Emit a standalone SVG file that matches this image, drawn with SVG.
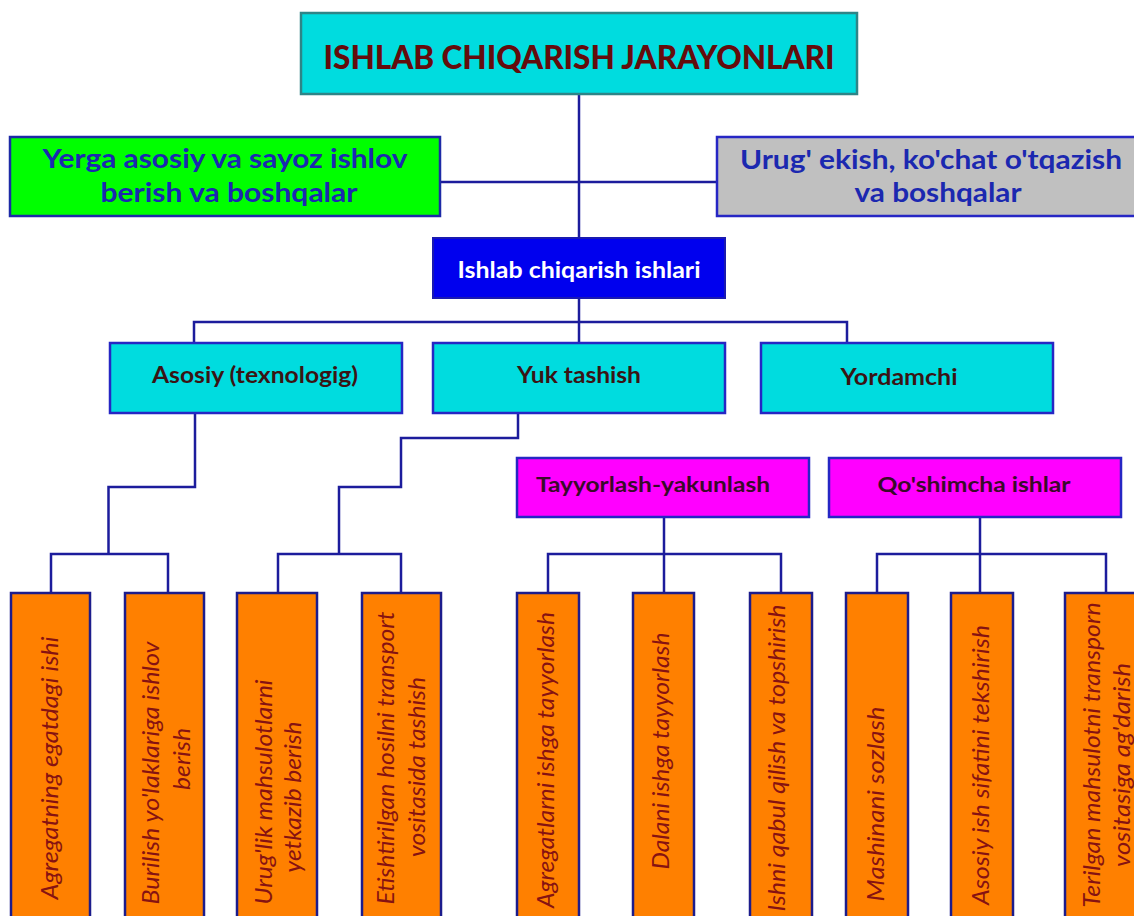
<svg xmlns="http://www.w3.org/2000/svg" width="1134" height="916" viewBox="0 0 1134 916">
<style>
.bg{fill:#ffffff}
.ln{fill:none;stroke:#1c1c9c;stroke-width:2.5}
.title{fill:#00dcdf;stroke:#2e8587;stroke-width:2.5}
.cyan{fill:#00dcdf;stroke:#2626c4;stroke-width:2.5}
.green{fill:#00ff00;stroke:#1c2aa6;stroke-width:2.5}
.gray{fill:#c0c0c0;stroke:#2626c4;stroke-width:2.5}
.blue{fill:#0000ee;stroke:#1a1ab0;stroke-width:2}
.mag{fill:#ff00ff;stroke:#2626c4;stroke-width:2.5}
.org{fill:#ff8000;stroke:#1c1c8c;stroke-width:2.5}
text{font-family:Lato,"Open Sans","Liberation Sans",sans-serif;font-weight:bold;text-anchor:middle}
.t0{fill:#640c0c;font-size:33px;font-weight:900}
.t1{fill:#1b28b0;font-size:26px}
.t2{fill:#ffffff;font-size:22px}
.t3{fill:#3a1414;font-size:23px}
.t4{fill:#3a0a2a;font-size:21px}
.t5{fill:#861212;font-size:24px;font-style:italic;font-weight:normal}
</style>
<rect class="bg" x="0" y="0" width="1134" height="916"/>
<g id="connectors">
<path class="ln" d="M579 94V238"/>
<path class="ln" d="M440 182H717"/>
<path class="ln" d="M579 298V343"/>
<path class="ln" d="M194 343V322H847V343"/>
<path class="ln" d="M195 413V487H108.5V554"/>
<path class="ln" d="M51 593V554H168V593"/>
<path class="ln" d="M518 413V438H401V487H339V554"/>
<path class="ln" d="M278 593V554H401V593"/>
<path class="ln" d="M664 517V593"/>
<path class="ln" d="M548 593V554H781V593"/>
<path class="ln" d="M980 517V593"/>
<path class="ln" d="M877 593V554H1106V593"/>
</g>
<g id="n-title">
<rect class="title" x="301" y="13" width="556" height="81"/>
<text class="t0" x="579" y="69" textLength="511" lengthAdjust="spacingAndGlyphs">ISHLAB CHIQARISH JARAYONLARI</text>
</g>
<g id="n-yerga">
<rect class="green" x="10" y="137" width="430" height="79"/>
<text class="t1" x="225" y="168" textLength="365" lengthAdjust="spacingAndGlyphs">Yerga asosiy va sayoz ishlov</text>
<text class="t1" x="229" y="202" textLength="257" lengthAdjust="spacingAndGlyphs">berish va boshqalar</text>
</g>
<g id="n-urug">
<rect class="gray" x="717" y="137" width="425" height="79"/>
<text class="t1" x="931" y="169" textLength="382" lengthAdjust="spacingAndGlyphs">Urug' ekish, ko'chat o'tqazish</text>
<text class="t1" x="938" y="202" textLength="167" lengthAdjust="spacingAndGlyphs">va boshqalar</text>
</g>
<g id="n-ishlab">
<rect class="blue" x="433" y="238" width="292" height="60"/>
<text class="t2" x="579" y="278" textLength="243" lengthAdjust="spacingAndGlyphs">Ishlab chiqarish ishlari</text>
</g>
<g id="n-asosiy">
<rect class="cyan" x="110" y="343" width="292" height="70"/>
<text class="t3" x="255" y="383" textLength="206" lengthAdjust="spacingAndGlyphs">Asosiy (texnologig)</text>
</g>
<g id="n-yuk">
<rect class="cyan" x="433" y="343" width="292" height="70"/>
<text class="t3" x="579" y="383" textLength="124" lengthAdjust="spacingAndGlyphs">Yuk tashish</text>
</g>
<g id="n-yordamchi">
<rect class="cyan" x="761" y="343" width="292" height="70"/>
<text class="t3" x="899" y="385" textLength="117" lengthAdjust="spacingAndGlyphs">Yordamchi</text>
</g>
<g id="n-tayyorlash">
<rect class="mag" x="517" y="458" width="292" height="59"/>
<text class="t4" x="653" y="492" textLength="234" lengthAdjust="spacingAndGlyphs">Tayyorlash-yakunlash</text>
</g>
<g id="n-qoshimcha">
<rect class="mag" x="829" y="458" width="292" height="59"/>
<text class="t4" x="974" y="492" textLength="193" lengthAdjust="spacingAndGlyphs">Qo'shimcha ishlar</text>
</g>
<g id="n-o1">
<rect class="org" x="11" y="593" width="79" height="340"/>
<text class="t5" transform="translate(58 768) rotate(-90)" textLength="263" lengthAdjust="spacingAndGlyphs">Agregatning egatdagi ishi</text>
</g>
<g id="n-o2">
<rect class="org" x="125" y="593" width="79" height="340"/>
<text class="t5" transform="translate(159 773) rotate(-90)" textLength="263" lengthAdjust="spacingAndGlyphs">Burilish yo'laklariga ishlov</text>
<text class="t5" transform="translate(190 759) rotate(-90)" textLength="62" lengthAdjust="spacingAndGlyphs">berish</text>
</g>
<g id="n-o3">
<rect class="org" x="237" y="593" width="80" height="340"/>
<text class="t5" transform="translate(272 792) rotate(-90)" textLength="225" lengthAdjust="spacingAndGlyphs">Urug'lik mahsulotlarni</text>
<text class="t5" transform="translate(301 797) rotate(-90)" textLength="151" lengthAdjust="spacingAndGlyphs">yetkazib berish</text>
</g>
<g id="n-o4">
<rect class="org" x="362" y="593" width="79" height="340"/>
<text class="t5" transform="translate(394 758) rotate(-90)" textLength="293" lengthAdjust="spacingAndGlyphs">Etishtirilgan hosilni transport</text>
<text class="t5" transform="translate(425 767) rotate(-90)" textLength="180" lengthAdjust="spacingAndGlyphs">vositasida tashish</text>
</g>
<g id="n-o5">
<rect class="org" x="517" y="593" width="62" height="340"/>
<text class="t5" transform="translate(554 760) rotate(-90)" textLength="296" lengthAdjust="spacingAndGlyphs">Agregatlarni ishga tayyorlash</text>
</g>
<g id="n-o6">
<rect class="org" x="633" y="593" width="61" height="340"/>
<text class="t5" transform="translate(669 751) rotate(-90)" textLength="237" lengthAdjust="spacingAndGlyphs">Dalani ishga tayyorlash</text>
</g>
<g id="n-o7">
<rect class="org" x="750" y="593" width="62" height="340"/>
<text class="t5" transform="translate(785 758) rotate(-90)" textLength="307" lengthAdjust="spacingAndGlyphs">Ishni qabul qilish va topshirish</text>
</g>
<g id="n-o8">
<rect class="org" x="846" y="593" width="62" height="340"/>
<text class="t5" transform="translate(884 804) rotate(-90)" textLength="195" lengthAdjust="spacingAndGlyphs">Mashinani sozlash</text>
</g>
<g id="n-o9">
<rect class="org" x="951" y="593" width="62" height="340"/>
<text class="t5" transform="translate(989 765) rotate(-90)" textLength="280" lengthAdjust="spacingAndGlyphs">Asosiy ish sifatini tekshirish</text>
</g>
<g id="n-o10">
<rect class="org" x="1065" y="593" width="82" height="340"/>
<text class="t5" transform="translate(1100 755) rotate(-90)" textLength="305" lengthAdjust="spacingAndGlyphs">Terilgan mahsulotni transporn</text>
<text class="t5" transform="translate(1130 765) rotate(-90)" textLength="204" lengthAdjust="spacingAndGlyphs">vositasiga ag'darish</text>
</g>
</svg>
